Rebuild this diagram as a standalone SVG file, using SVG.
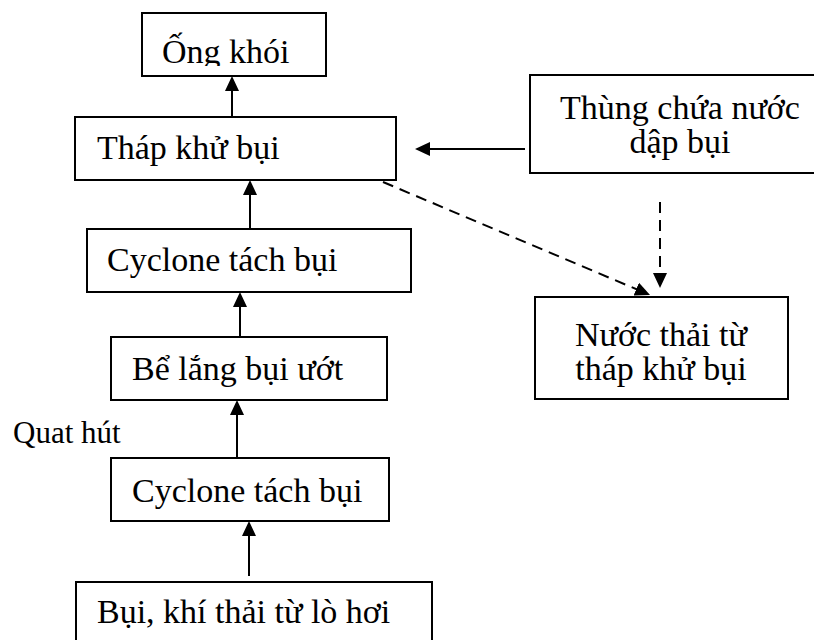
<svg xmlns="http://www.w3.org/2000/svg" width="814" height="640" viewBox="0 0 814 640">
  <style>
    .box { fill: #ffffff; stroke: #000000; stroke-width: 2; }
    .lbl { font-family: "Liberation Serif", "Times New Roman", serif; font-size: 34px; fill: #000000; }
    .mid { text-anchor: middle; }
    .conn { fill: none; stroke: #000000; stroke-width: 2; }
    .dash { stroke-dasharray: 11 7; }
    .note { font-family: "Liberation Serif", "Times New Roman", serif; font-size: 31px; fill: #000000; }
  </style>
  <defs>
    <marker id="ah" viewBox="0 0 15 14" refX="13" refY="7" markerWidth="15" markerHeight="14" markerUnits="userSpaceOnUse" orient="auto">
      <path d="M0,0 L15,7 L0,14 Z" fill="#000000" stroke="none"/>
    </marker>
    <clipPath id="clipOng">
      <rect x="142" y="13" width="184" height="53"/>
    </clipPath>
  </defs>
  <rect x="0" y="0" width="814" height="640" fill="#ffffff"/>

  <g id="node-ong-khoi">
    <rect class="box" x="142" y="13" width="184" height="63"/>
    <text class="lbl" x="162" y="63" clip-path="url(#clipOng)">Ống khói</text>
  </g>
  <g id="node-thap-khu-bui">
    <rect class="box" x="75" y="117" width="321" height="63"/>
    <text class="lbl" x="97" y="159">Tháp khử bụi</text>
  </g>
  <g id="node-cyclone-upper">
    <rect class="box" x="87" y="229" width="324" height="63"/>
    <text class="lbl" x="107" y="271">Cyclone tách bụi</text>
  </g>
  <g id="node-be-lang">
    <rect class="box" x="111" y="337" width="276" height="63"/>
    <text class="lbl" x="132" y="380">Bể lắng bụi ướt</text>
  </g>
  <g id="node-cyclone-lower">
    <rect class="box" x="111" y="458" width="278" height="63"/>
    <text class="lbl" x="132" y="502">Cyclone tách bụi</text>
  </g>
  <g id="node-bui-khi-thai">
    <rect class="box" x="76" y="582" width="356" height="80"/>
    <text class="lbl" x="97" y="623">Bụi, khí thải từ lò hơi</text>
  </g>
  <g id="node-thung-chua">
    <rect class="box" x="530" y="75" width="300" height="98"/>
    <text class="lbl mid" x="680" y="119">Thùng chứa nước</text>
    <text class="lbl mid" x="680" y="153">dập bụi</text>
  </g>
  <g id="node-nuoc-thai">
    <rect class="box" x="535" y="297" width="253" height="102"/>
    <text class="lbl mid" x="661" y="346">Nước thải từ</text>
    <text class="lbl mid" x="661" y="380">tháp khử bụi</text>
  </g>
  <g id="label-quat-hut">
    <text class="note" x="13" y="443">Quat hút</text>
  </g>

  <g id="connectors">
    <path class="conn" d="M232,117 V78" marker-end="url(#ah)"/>
    <path class="conn" d="M250,229 V182" marker-end="url(#ah)"/>
    <path class="conn" d="M240,337 V294" marker-end="url(#ah)"/>
    <path class="conn" d="M237,458 V402" marker-end="url(#ah)"/>
    <path class="conn" d="M249,576 V523" marker-end="url(#ah)"/>
    <path class="conn" d="M525,149 H417" marker-end="url(#ah)"/>
    <path class="conn dash" d="M383,182 L648.2,294.2" marker-end="url(#ah)"/>
    <path class="conn dash" d="M660,202 V286" marker-end="url(#ah)"/>
  </g>
</svg>
